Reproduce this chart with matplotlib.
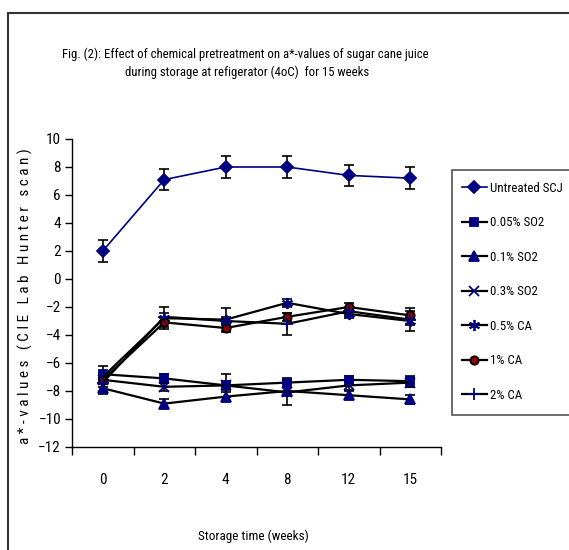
import matplotlib
matplotlib.use("Agg")
import matplotlib.pyplot as plt
from matplotlib import font_manager
from matplotlib.patches import Rectangle
import numpy as np

# ---------------- data ----------------
weeks = ["0", "2", "4", "8", "12", "15"]
series_names = ["Untreated SCJ", "0.05% SO2", "0.1% SO2", "0.3% SO2", "0.5% CA", "1% CA", "2% CA"]

untreated = [2.0, 7.1, 8.0, 8.0, 7.4, 7.2]
so2_005 = [-6.8, -7.1, -7.6, -7.4, -7.2, -7.3]
so2_01 = [-7.8, -8.9, -8.4, -8.0, -8.3, -8.6]
so2_03 = [-7.2, -7.7, -7.6, -8.1, -7.6, -7.4]
ca_05 = [-7.0, -2.8, -2.9, -1.7, -2.5, -3.0]
ca_1 = [-7.2, -3.1, -3.5, -2.7, -2.0, -2.6]
ca_2 = [-7.4, -2.7, -3.0, -3.2, -2.3, -2.9]

untreated_err = [0.8, 0.75, 0.8, 0.8, 0.75, 0.8]
so2_005_err = [0.6, 0.3, 0.3, 0.3, 0.3, 0.4]
so2_01_err = [0.4, 0.3, 0.3, 0.3, 0.3, 0.3]
so2_03_err = [0.3, 0.3, 0.8, 0.9, 0.3, 0.3]
ca_05_err = [0.3, 0.8, 0.8, 0.3, 0.3, 0.3]
ca_1_err = [0.3, 0.3, 0.3, 0.3, 0.3, 0.3]
ca_2_err = [0.3, 0.3, 0.3, 0.8, 0.3, 0.8]

# ---------------- font ----------------
avail = {f.name for f in font_manager.fontManager.ttflist}
fam = "DejaVu Sans"
for cand in ["Liberation Sans Narrow", "Arial Narrow", "Roboto Condensed", "Liberation Sans"]:
    if cand in avail:
        fam = cand
        break
plt.rcParams["font.family"] = [fam, "DejaVu Sans"]

W, H = 569, 550
fig = plt.figure(figsize=(W / 100, H / 100), dpi=100)

def fx(px):
    return px / W

def fy(py):
    return 1 - py / H

# outer chart frame
fig.patches.append(Rectangle((fx(8), fy(560)), fx(575) - fx(8), fy(13) - fy(560),
                             transform=fig.transFigure, fill=False, edgecolor="#333333", lw=1.5))

ax_l, ax_r, ax_t, ax_b = 72, 441, 139, 447
ax = fig.add_axes([fx(ax_l), fy(ax_b), fx(ax_r) - fx(ax_l), fy(ax_t) - fy(ax_b)])

x = np.arange(len(weeks))
navy = "#000080"
specs = [
    (untreated, untreated_err, "D", navy, navy, navy, 6, 1.2),
    (so2_005, so2_005_err, "s", navy, navy, "black", 6, 1.6),
    (so2_01, so2_01_err, "^", navy, navy, "black", 7, 1.6),
    (so2_03, so2_03_err, "x", navy, navy, "black", 7, 1.6),
    (ca_05, ca_05_err, (6, 2, 0), navy, navy, "black", 8, 1.6),
    (ca_1, ca_1_err, "o", "#8B0000", "black", "black", 6, 1.6),
    (ca_2, ca_2_err, "+", navy, navy, "black", 9, 1.6),
]
handles = []
for (vals, errs, mk, mfc, mec, lc, ms, lw), name in zip(specs, series_names):
    ax.errorbar(x, vals, yerr=errs, fmt="none", ecolor="black", elinewidth=1.2,
                capsize=3.5, capthick=1.2, zorder=2)
    h, = ax.plot(x, vals, color=lc, lw=lw, marker=mk, markersize=ms,
                 markerfacecolor=mfc, markeredgecolor=mec, markeredgewidth=1.3,
                 label=name, zorder=3)
    handles.append(h)

ax.set_xlim(-0.5, len(weeks) - 0.5)
ax.set_ylim(-12, 10)
ax.set_yticks(np.arange(-12, 11, 2))
ax.set_xticks(np.arange(-0.5, len(weeks), 1.0))
ax.set_xticklabels([])
ax.set_xticks(x, minor=True)
ax.set_xticklabels(weeks, minor=True)
ax.tick_params(axis="x", which="minor", length=0, pad=19, labelsize=11)
ax.tick_params(axis="x", which="major", length=6, width=1, direction="out")
ax.tick_params(axis="y", length=5, width=1, direction="out", labelsize=11, pad=3)
for s in ["top", "right"]:
    ax.spines[s].set_visible(False)
for s in ["left", "bottom"]:
    ax.spines[s].set_linewidth(1.0)

ylabel = "a*-values (CIE Lab Hunter scan)"
fig.text(fx(25), fy(296), " ".join(ylabel), rotation=90, ha="center", va="center", fontsize=11)

fig.text(fx(245), fy(54), "Fig. (2): Effect of chemical pretreatment on a*-values of sugar cane juice",
         ha="center", va="center", fontsize=9.2)
fig.text(fx(247), fy(72), "during storage at refigerator (4oC)  for 15 weeks",
         ha="center", va="center", fontsize=9.2)
fig.text(fx(253), fy(536), "Storage time (weeks)", ha="center", va="center", fontsize=9.5)

# legend box
fig.patches.append(Rectangle((fx(452), fy(415)), fx(570) - fx(452), fy(170) - fy(415),
                             transform=fig.transFigure, fill=False, edgecolor="#555555", lw=1.2))
fig.legend(handles=handles, labels=series_names, loc="upper left",
           bbox_to_anchor=(fx(462), fy(182)), frameon=False, fontsize=9.3,
           handlelength=1.9, handletextpad=0.25, labelspacing=1.66, borderaxespad=0,
           borderpad=0)

fig.savefig("out.png", dpi=100)
